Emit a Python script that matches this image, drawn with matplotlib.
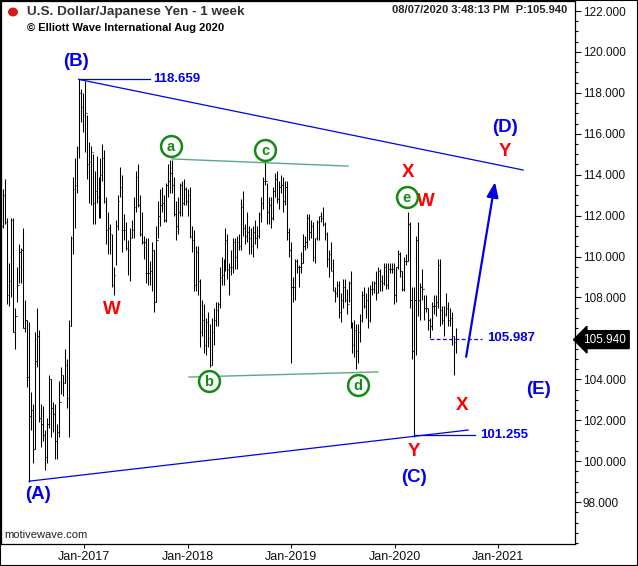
import numpy as np
import pandas as pd
import matplotlib
matplotlib.use('Agg')
import matplotlib.pyplot as plt
import matplotlib.dates as mdates
from matplotlib.ticker import MultipleLocator, FixedLocator, FormatStrFormatter
from matplotlib.patches import Rectangle, Circle

plt.rcParams['font.family'] = ['Liberation Sans', 'DejaVu Sans']

# ==== weekly USD/JPY bars, week starting 2016-03-14 ====
start_week = '2016-03-14'
first_open = 113.0
high = [
    # 2016
    113.8, 113.3, 113.8, 111.9, 109.7, 111.9, 111.9, 107.5, 109.5, 110.6, 110.4, 111.4,
    107.9, 106.9, 106.8, 103.4, 102.8, 106.3, 107.5, 106.4, 102.8, 102.7, 101.5, 102.1,
    104.2, 104.0, 102.9, 102.8, 101.8, 103.9, 104.6, 104.2, 105.5, 105.0, 106.9, 111.0,
    113.9, 114.8, 115.4, 118.7, 118.2, 118.0,
    # 2017
    118.6, 116.9, 115.6, 115.4, 115.0, 114.2, 114.9, 113.9, 114.8, 115.5, 115.2, 112.9,
    112.2, 111.6, 111.1, 109.5, 111.8, 113.0, 114.4, 114.0, 112.1, 111.7, 110.8, 111.4,
    111.8, 112.9, 114.2, 114.5, 113.0, 112.2, 111.0, 110.9, 110.9, 109.8, 110.7, 110.3,
    111.5, 112.7, 113.3, 113.4, 113.0, 113.6, 114.5, 114.7, 114.7, 113.9, 112.7, 112.9,
    113.6, 113.7, 113.8, 113.4,
    # 2018
    113.3, 113.4, 111.5, 111.3, 110.5, 110.5, 108.9, 107.9, 107.7, 107.0, 107.3, 106.7,
    107.0, 107.5, 107.8, 107.8, 109.5, 110.0, 109.9, 111.4, 111.1, 109.7, 110.3, 110.9,
    110.9, 111.0, 111.1, 112.8, 113.2, 111.6, 112.2, 111.5, 111.4, 111.5, 111.8, 111.5,
    112.2, 112.9, 113.9, 114.6, 113.6, 112.9, 112.9, 113.4, 114.1, 114.2, 113.7, 114.0,
    113.9, 113.7, 113.7, 111.4, 110.7,
    # 2019
    109.0, 109.9, 109.9, 109.6, 110.2, 111.1, 111.0, 112.1, 112.1, 111.8, 111.7, 110.9,
    111.8, 112.0, 112.2, 112.4, 111.7, 111.2, 110.3, 110.7, 109.9, 108.5, 108.8, 108.8,
    108.2, 108.9, 108.9, 108.4, 108.8, 109.3, 106.8, 106.9, 106.7, 106.7, 107.2, 108.3,
    108.5, 108.2, 108.5, 108.6, 108.8, 108.8, 109.3, 109.5, 109.4, 109.1, 109.7, 109.7,
    109.7, 109.7, 109.7, 109.7,
    # 2020
    109.5, 110.3, 110.2, 109.3, 110.0, 110.1, 112.2, 111.7, 108.5, 108.5, 111.0, 111.7,
    108.7, 109.4, 108.1, 108.1, 107.5, 107.0, 107.8, 108.1, 108.1, 109.9, 109.9, 107.6,
    107.6, 108.2, 107.8, 107.5, 107.3, 106.1, 106.5,
]
low = [
    # 2016
    110.7, 111.4, 111.6, 107.7, 107.6, 108.0, 106.3, 105.5, 107.8, 108.7, 108.7, 106.5,
    106.3, 103.6, 99.0, 101.5, 99.9, 100.6, 104.6, 101.9, 100.7, 101.0, 99.55, 99.9,
    101.6, 101.2, 101.4, 100.1, 100.1, 101.2, 103.3, 103.2, 103.8, 102.6, 101.2, 106.6,
    110.1, 111.4, 113.1, 114.8, 116.6, 116.1,
    # 2017
    115.1, 113.8, 112.6, 112.5, 111.6, 111.6, 112.6, 111.9, 111.9, 113.7, 112.6, 110.6,
    110.1, 110.1, 108.5, 108.1, 109.6, 111.3, 112.9, 110.2, 110.8, 110.3, 109.1, 108.8,
    110.9, 110.9, 112.2, 112.4, 111.0, 110.6, 109.9, 108.7, 108.6, 108.6, 108.3, 107.3,
    107.8, 110.9, 111.5, 112.2, 111.7, 111.7, 112.9, 113.1, 113.1, 112.0, 110.8, 111.1,
    112.0, 112.0, 112.5, 112.5,
    # 2018
    112.0, 110.9, 110.2, 108.3, 108.3, 108.1, 105.6, 106.1, 105.3, 105.2, 105.6, 104.6,
    104.7, 105.7, 106.6, 106.6, 107.5, 108.6, 108.6, 109.3, 108.9, 108.1, 109.1, 109.2,
    109.4, 109.4, 110.3, 110.3, 111.0, 110.6, 110.7, 110.1, 110.1, 110.0, 110.6, 110.4,
    110.9, 111.7, 112.3, 113.5, 111.6, 111.6, 111.4, 111.8, 112.9, 112.6, 112.3, 113.1,
    112.2, 112.5, 110.8, 110.0, 104.8,
    # 2019
    107.8, 107.9, 109.2, 108.5, 109.2, 109.7, 110.3, 110.4, 110.8, 110.9, 109.8, 109.7,
    110.8, 110.8, 111.7, 111.5, 110.8, 109.5, 109.0, 109.3, 108.3, 107.8, 108.0, 107.0,
    106.8, 107.5, 107.8, 107.2, 107.8, 106.5, 105.3, 105.1, 104.5, 104.8, 105.8, 106.8,
    107.5, 107.0, 106.5, 106.8, 108.1, 108.2, 107.9, 108.2, 108.3, 108.3, 108.6, 108.4,
    108.4, 109.2, 109.2, 107.7,
    # 2020
    107.8, 109.4, 109.0, 108.3, 108.3, 109.6, 109.8, 107.5, 105.0, 101.2, 105.2, 107.1,
    106.9, 107.9, 106.9, 107.3, 106.4, 106.0, 106.4, 107.2, 107.1, 107.5, 106.6, 106.7,
    106.1, 107.1, 106.6, 106.6, 105.7, 104.2, 105.3,
]
close = [
    # 2016
    111.5, 113.0, 111.7, 108.1, 108.8, 111.8, 106.3, 107.1, 108.6, 110.2, 110.3, 106.5,
    106.9, 104.1, 102.2, 102.5, 100.6, 104.9, 106.1, 102.1, 101.8, 101.3, 100.2, 101.8,
    104.0, 102.6, 102.3, 101.0, 101.4, 102.9, 104.2, 103.8, 104.7, 103.1, 106.6, 110.9,
    113.3, 113.5, 115.3, 118.0, 117.3, 116.9,
    # 2017
    117.0, 114.5, 114.6, 115.1, 112.6, 113.2, 112.9, 112.1, 114.0, 114.8, 112.7, 111.3,
    111.4, 111.1, 108.6, 109.1, 111.5, 112.7, 113.4, 111.3, 111.3, 110.4, 110.3, 110.9,
    111.3, 112.4, 113.9, 112.5, 111.1, 110.7, 110.7, 109.2, 109.2, 109.3, 110.3, 107.8,
    110.8, 112.0, 112.5, 112.6, 111.8, 113.5, 113.7, 114.1, 113.5, 112.1, 111.5, 112.2,
    113.5, 112.6, 113.3, 112.7,
    # 2018
    113.0, 111.0, 110.8, 108.6, 110.2, 108.8, 106.3, 106.9, 105.7, 106.8, 106.0, 104.7,
    106.3, 106.9, 107.4, 107.7, 109.0, 109.1, 109.4, 110.8, 109.4, 109.5, 109.5, 110.7,
    110.0, 110.7, 110.5, 112.4, 111.4, 111.0, 111.2, 110.9, 110.5, 111.2, 110.9, 111.0,
    112.1, 112.6, 113.7, 113.7, 112.2, 112.5, 111.9, 113.2, 113.8, 112.8, 113.4, 113.5,
    112.7, 113.4, 111.2, 110.3, 108.5,
    # 2019
    108.5, 109.8, 109.5, 109.5, 109.7, 110.5, 110.7, 111.9, 111.2, 111.5, 110.0, 110.9,
    111.7, 112.0, 111.9, 111.6, 111.1, 109.9, 110.1, 109.3, 108.3, 108.2, 108.6, 107.3,
    107.9, 108.5, 107.9, 107.7, 108.7, 106.6, 105.7, 106.4, 105.4, 106.3, 106.9, 108.1,
    107.6, 107.9, 106.9, 108.4, 108.4, 108.7, 108.2, 109.3, 108.8, 108.7, 109.5, 108.6,
    109.4, 109.4, 109.4, 108.1,
    # 2020
    109.5, 110.1, 109.3, 108.4, 109.8, 109.8, 111.6, 107.9, 105.4, 107.9, 110.8, 107.9,
    108.5, 108.4, 107.5, 107.5, 106.9, 106.6, 107.6, 107.6, 107.8, 109.6, 107.4, 106.9,
    107.2, 107.5, 106.9, 107.0, 106.1, 105.8, 105.94,
]
dates = pd.date_range(start_week, periods=len(close), freq='W-MON')
opens = [first_open] + close[:-1]

# price axis labels (106 is hidden behind the last-price tag)
ytick_vals = [98, 100, 102, 104, 108, 110, 112, 114, 116, 118, 120, 122]
last_price = 105.940

blue = '#0000ee'
red = '#ff0000'
green = '#138a13'
lgreen = '#3f9a6a'

W, H = 638, 566
fig = plt.figure(figsize=(W / 100, H / 100), dpi=100)
ax = fig.add_axes([1 / W, 22 / H, 574 / W, 543 / H])

# ==== bars ====
half = pd.Timedelta(days=2.4)
ax.vlines(dates, low, high, color='k', lw=0.75)
ax.hlines(opens, dates - half, dates, color='k', lw=0.75)
ax.hlines(close, dates, dates + half, color='k', lw=0.75)

d = pd.Timestamp

# ==== trend lines (blue triangle) ====
ax.plot([d('2016-12-12'), d('2021-03-29')], [118.659, 114.23], color=blue, lw=0.9)
ax.plot([d('2016-06-20'), d('2020-09-16')], [99.02, 101.52], color=blue, lw=0.9)
ax.plot([d('2016-12-12'), d('2017-08-21')], [118.659, 118.659], color=blue, lw=0.9)
ax.plot([d('2020-03-09'), d('2020-10-11')], [101.255, 101.255], color=blue, lw=0.9)
ax.plot([d('2020-05-05'), d('2020-11-04')], [105.987, 105.987], color=blue, lw=0.9, ls=(0, (3, 2)))
ax.text(d('2017-08-31'), 118.68, '118.659', color=blue, fontsize=9.5, weight='bold', va='center')
ax.text(d('2020-10-28'), 101.255, '101.255', color=blue, fontsize=9.5, weight='bold', va='center')
ax.text(d('2020-11-22'), 106.0, '105.987', color=blue, fontsize=9.5, weight='bold', va='center')

# green triangle lines
ax.plot([d('2017-11-06'), d('2019-07-20')], [114.77, 114.42], color=lgreen, lw=1.0, alpha=0.85)
ax.plot([d('2018-01-05'), d('2019-11-02')], [104.11, 104.36], color=lgreen, lw=1.0, alpha=0.85)

# arrow
ax.annotate('', xy=(d('2020-12-20'), 113.64), xytext=(d('2020-09-09'), 105.1),
            arrowprops=dict(arrowstyle='-|>,head_length=0.9,head_width=0.35', color=blue,
                            lw=1.6, shrinkA=0, shrinkB=0))

# ==== wave labels ====
blue_labels = [('(A)', '2016-07-22', 98.39), ('(B)', '2016-12-03', 119.51),
               ('(C)', '2020-03-09', 99.22), ('(D)', '2021-01-24', 116.33),
               ('(E)', '2021-05-23', 103.52)]
for txt, dt, p in blue_labels:
    ax.text(d(dt), p, txt, color=blue, fontsize=13.5, weight='bold', ha='center', va='center')

red_labels = [('W', '2017-04-09', 107.39), ('X', '2020-02-16', 114.13),
              ('W', '2020-04-20', 112.71), ('Y', '2020-03-09', 100.45),
              ('X', '2020-08-26', 102.74), ('Y', '2021-01-24', 115.11)]
for txt, dt, p in red_labels:
    ax.text(d(dt), p, txt, color=red, fontsize=13.5, weight='bold', ha='center', va='center')

green_labels = [('a', '2017-11-03', 115.40), ('c', '2018-10-01', 115.21),
                ('b', '2018-03-17', 103.92), ('d', '2019-08-24', 103.72),
                ('e', '2020-02-12', 112.91)]
for txt, dt, p in green_labels:
    ax.plot(d(dt), p, 'o', ms=15, mfc='white', mec=green, mew=1.8, zorder=5)
    ax.text(d(dt), p - 0.05, txt, color=green, fontsize=10.5, weight='bold',
            ha='center', va='center', zorder=6)

# ==== axes ====
ax.set_xlim(d('2016-03-13'), d('2021-09-28'))
ax.set_ylim(95.95, 122.49)
ax.yaxis.tick_right()
ax.yaxis.set_major_locator(FixedLocator(ytick_vals))
ax.yaxis.set_minor_locator(MultipleLocator(0.5))
ax.yaxis.set_major_formatter(FormatStrFormatter('%.3f'))
ax.tick_params(axis='y', which='major', direction='out', length=4.5, width=0.8,
               labelsize=8.5, pad=1, colors='#111')
ax.tick_params(axis='y', which='minor', direction='out', length=2.2, width=0.8)
ax.xaxis.set_major_locator(mdates.YearLocator())
ax.xaxis.set_major_formatter(mdates.DateFormatter('%b-%Y'))
ax.tick_params(axis='x', direction='out', length=3, width=0.8, labelsize=9, pad=2, colors='#111')
for s in ax.spines.values():
    s.set_linewidth(0.9)

# current price tag
ax.annotate(f'{last_price:.3f}', xy=(1.0, last_price), xycoords=ax.get_yaxis_transform(),
            xytext=(6, 0), textcoords='offset points', color='white', fontsize=8.5,
            va='center', ha='left', annotation_clip=False,
            bbox=dict(boxstyle='larrow,pad=0.25', fc='black', ec='black'))

# ==== header texts ====
fig.patches.append(Circle((13 / W, 1 - 12 / H), 5 / W, transform=fig.transFigure,
                          fc='#d41a1a', ec='none'))
fig.text(27 / W, 1 - 12 / H, 'U.S. Dollar/Japanese Yen - 1 week', fontsize=9.7,
         weight='bold', color='#333', va='center')
fig.text(27 / W, 1 - 28 / H, '\u00a9 Elliott Wave International Aug 2020', fontsize=8,
         weight='bold', color='black', va='center')
fig.text(567 / W, 1 - 10 / H, '08/07/2020 3:48:13 PM  P:105.940', fontsize=8,
         weight='bold', color='#222', va='center', ha='right')
fig.text(4 / W, 1 - 535 / H, 'motivewave.com', fontsize=8, color='#222', va='center')

fig.patches.append(Rectangle((0, 0), 1, 1, transform=fig.transFigure, fill=False,
                             ec='black', lw=1.5))

fig.savefig('out.png', dpi=100)
